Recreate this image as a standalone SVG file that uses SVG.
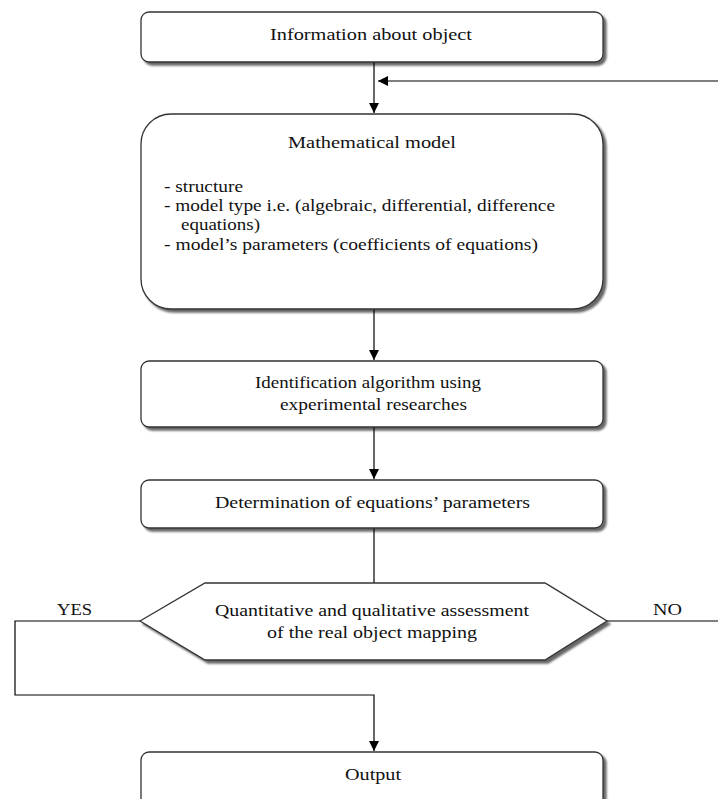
<svg xmlns="http://www.w3.org/2000/svg" width="718" height="799" viewBox="0 0 718 799">
<defs>
<filter id="sh" x="-5%" y="-5%" width="115%" height="130%">
<feGaussianBlur in="SourceAlpha" stdDeviation="1.2"/>
<feOffset dx="3" dy="3" result="b"/>
<feComponentTransfer><feFuncA type="linear" slope="0.6"/></feComponentTransfer>
<feMerge><feMergeNode/><feMergeNode in="SourceGraphic"/></feMerge>
</filter>
<marker id="ah" viewBox="0 0 10 10" refX="10" refY="5" markerWidth="10" markerHeight="10" markerUnits="userSpaceOnUse" orient="auto">
<path d="M0,0 L10,5 L0,10 z" fill="#000"/>
</marker>
</defs>
<style>
.box{fill:#fff;stroke:#333;stroke-width:1.3;filter:url(#sh)}
.t{font-family:"Liberation Serif","Times New Roman",serif;font-size:17.5px;fill:#111}
.c{text-anchor:middle}
.ln{fill:none;stroke:#000;stroke-width:1.2}
</style>
<rect width="718" height="799" fill="#fff"/>
<g id="connectors">
<line class="ln" x1="374" y1="62" x2="374" y2="113" marker-end="url(#ah)"/>
<line class="ln" x1="718" y1="81" x2="378" y2="81" marker-end="url(#ah)"/>
<line class="ln" x1="374" y1="309" x2="374" y2="360" marker-end="url(#ah)"/>
<line class="ln" x1="374" y1="427" x2="374" y2="479" marker-end="url(#ah)"/>
<line class="ln" x1="374" y1="528" x2="374" y2="583"/>
<polyline class="ln" points="140,621 15,621 15,695 374,695 374,751" marker-end="url(#ah)"/>
<line class="ln" x1="607" y1="621" x2="718" y2="621"/>
<text class="t" x="57" y="615" textLength="35" lengthAdjust="spacingAndGlyphs">YES</text>
<text class="t" x="653" y="615" textLength="29" lengthAdjust="spacingAndGlyphs">NO</text>
</g>
<g id="info">
<rect class="box" x="141" y="12" width="462" height="50" rx="8"/>
<text class="t" x="270" y="40" textLength="202" lengthAdjust="spacingAndGlyphs">Information about object</text>
</g>
<g id="model">
<rect class="box" x="141" y="114" width="462" height="195" rx="30"/>
<text class="t" x="288" y="148" textLength="168" lengthAdjust="spacingAndGlyphs">Mathematical model</text>
<text class="t" x="164" y="192" textLength="79" lengthAdjust="spacingAndGlyphs">- structure</text>
<text class="t" x="164" y="211" textLength="391" lengthAdjust="spacingAndGlyphs">- model type i.e.  (algebraic,  differential, difference</text>
<text class="t" x="181" y="230" textLength="79" lengthAdjust="spacingAndGlyphs">equations)</text>
<text class="t" x="164" y="250" textLength="374" lengthAdjust="spacingAndGlyphs">- model’s parameters (coefficients of equations)</text>
</g>
<g id="ident">
<rect class="box" x="141" y="361" width="462" height="66" rx="8"/>
<text class="t" x="255" y="388" textLength="226" lengthAdjust="spacingAndGlyphs">Identification algorithm using</text>
<text class="t" x="280" y="410" textLength="187" lengthAdjust="spacingAndGlyphs">experimental researches</text>
</g>
<g id="determ">
<rect class="box" x="141" y="480" width="462" height="48" rx="8"/>
<text class="t" x="215" y="508" textLength="315" lengthAdjust="spacingAndGlyphs">Determination of equations’ parameters</text>
</g>
<g id="assess">
<polygon class="box" points="140,621 205,583 545,583 607,621 545,660 205,660"/>
<text class="t" x="215" y="616" textLength="314" lengthAdjust="spacingAndGlyphs">Quantitative and qualitative assessment</text>
<text class="t" x="267" y="638" textLength="210" lengthAdjust="spacingAndGlyphs">of the real object mapping</text>
</g>
<g id="output">
<rect class="box" x="141" y="752" width="462" height="56" rx="8"/>
<text class="t" x="345" y="780" textLength="56" lengthAdjust="spacingAndGlyphs">Output</text>
</g>
</svg>
